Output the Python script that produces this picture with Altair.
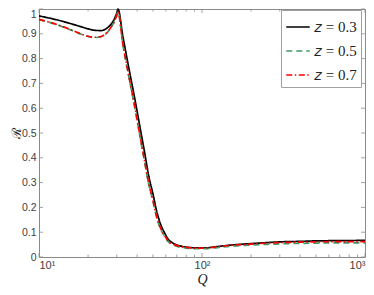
import altair as alt
import pandas as pd

# ---- data ----
Q = [10, 12, 14, 16, 18, 20, 22, 24, 26, 28, 29, 30, 30.5,
     32.7, 35.5, 38.7, 42, 44.5, 47, 50, 52.5, 55.5, 59, 62, 66, 72, 80, 91, 105,
     120, 150, 200, 250, 300, 400, 500, 700, 1000]

R_z03 = [0.972, 0.961, 0.950, 0.939, 0.929, 0.920, 0.914, 0.913, 0.922, 0.943, 0.960, 0.985, 1.000,
         0.890, 0.765, 0.638, 0.510, 0.420, 0.330, 0.255, 0.190, 0.135, 0.097, 0.072, 0.057, 0.046,
         0.040, 0.037, 0.037,
         0.041, 0.048, 0.054, 0.058, 0.061, 0.063, 0.065, 0.066, 0.067]

R_z05 = [0.957, 0.943, 0.928, 0.913, 0.899, 0.889, 0.885, 0.888, 0.903, 0.931, 0.949, 0.974, 0.990,
         0.856, 0.729, 0.602, 0.472, 0.382, 0.296, 0.225, 0.164, 0.115, 0.083, 0.062, 0.050, 0.041,
         0.036, 0.034, 0.034,
         0.037, 0.043, 0.048, 0.051, 0.053, 0.055, 0.056, 0.057, 0.057]

R_z07 = [0.958, 0.944, 0.929, 0.914, 0.900, 0.890, 0.886, 0.889, 0.904, 0.932, 0.950, 0.975, 0.988,
         0.859, 0.733, 0.606, 0.476, 0.386, 0.300, 0.229, 0.168, 0.119, 0.086, 0.065, 0.053, 0.044,
         0.039, 0.036, 0.036,
         0.040, 0.047, 0.052, 0.056, 0.058, 0.060, 0.061, 0.062, 0.062]

series_labels = ["𝑧 = 0.3", "𝑧 = 0.5", "𝑧 = 0.7"]
series_colors = ["#000000", "#3a9a68", "#ff0000"]
series_dashes = [[1, 0], [6, 4], [6, 2.5, 1.5, 2.5]]

x_major = [10, 100, 1000]
x_minor = [20, 30, 40, 50, 60, 70, 80, 90, 200, 300, 400, 500, 600, 700, 800, 900]
y_ticks = [0, 0.1, 0.2, 0.3, 0.4, 0.5, 0.6, 0.7, 0.8, 0.9, 1.0]

rows = []
for lab, vals in zip(series_labels, [R_z03, R_z05, R_z07]):
    for q, r in zip(Q, vals):
        rows.append({"Q": q, "R": r, "s": lab})
df = pd.DataFrame(rows)

W, H = 326, 248
GRAY = "#8a8a8a"
LBL = "#404040"

xscale = alt.Scale(type="log", domain=[10, 1000], nice=False)
yscale = alt.Scale(domain=[0, 1], nice=False, zero=False)

label_expr = "datum.value == 10 ? '10¹' : datum.value == 100 ? '10²' : '10³'"

xaxis = alt.Axis(values=x_major, labelExpr=label_expr, title="Q",
                 titleFont="Liberation Serif", titleFontStyle="italic",
                 titleFontSize=14, titleFontWeight="normal", titleColor="#222",
                 titlePadding=2, labelFont="Liberation Sans", labelFontSize=11,
                 labelColor=LBL, labelPadding=2)
yaxis = alt.Axis(values=y_ticks, format="~g", title="ℛ",
                 titleFont="DejaVu Serif", titleFontSize=13, titleFontWeight="normal",
                 titleColor="#222", titleX=-23, titleY=H / 2, titleAngle=270,
                 titleAlign="center", titleBaseline="middle",
                 labelFont="Liberation Sans",
                 labelFontSize=10.5, labelColor=LBL, labelPadding=3,
                 labelBaseline={"condition": {"test": "datum.value == 1", "value": "top"},
                                "value": "middle"})

lines = alt.Chart(df).mark_line(strokeWidth=1.7, interpolate="monotone").encode(
    x=alt.X("Q:Q", scale=xscale, axis=xaxis),
    y=alt.Y("R:Q", scale=yscale, axis=yaxis),
    color=alt.Color("s:N", scale=alt.Scale(domain=series_labels, range=series_colors),
                    legend=alt.Legend(title=None)),
    strokeDash=alt.StrokeDash("s:N", scale=alt.Scale(domain=series_labels, range=series_dashes),
                              legend=alt.Legend(title=None)),
    order=alt.Order("s:N"),
)

dfx_major = pd.DataFrame({"Q": x_major})
dfx_minor = pd.DataFrame({"Q": x_minor})
dfy = pd.DataFrame({"R": y_ticks})

tick_style = dict(color=GRAY, strokeWidth=0.8)
xt = alt.X("Q:Q", scale=xscale, axis=xaxis)
yt = alt.Y("R:Q", scale=yscale, axis=yaxis)

ticks = [
    alt.Chart(dfx_major).mark_rule(**tick_style).encode(x=xt, y=alt.value(H), y2=alt.value(H - 4)),
    alt.Chart(dfx_major).mark_rule(**tick_style).encode(x=xt, y=alt.value(0), y2=alt.value(4)),
    alt.Chart(dfx_minor).mark_rule(**tick_style).encode(x=xt, y=alt.value(H), y2=alt.value(H - 2.5)),
    alt.Chart(dfx_minor).mark_rule(**tick_style).encode(x=xt, y=alt.value(0), y2=alt.value(2.5)),
    alt.Chart(dfy).mark_rule(**tick_style).encode(y=yt, x=alt.value(0), x2=alt.value(4)),
    alt.Chart(dfy).mark_rule(**tick_style).encode(y=yt, x=alt.value(W), x2=alt.value(W - 4)),
]

chart = alt.layer(lines, *ticks).properties(
    width=W, height=H,
    autosize=alt.AutoSizeParams(type="none"),
    padding={"left": 31, "top": 1, "right": 1, "bottom": 30},
).configure_view(
    stroke=GRAY, strokeWidth=1
).configure_axis(
    domain=False, ticks=False, grid=False
).configure_legend(
    orient="none", legendX=242, legendY=1,
    fillColor="white", strokeColor="#a0a0a0", padding=4, cornerRadius=0,
    symbolType="stroke", symbolSize=550, symbolStrokeWidth=1.7,
    labelFont="Liberation Serif", labelFontSize=15, labelColor="#222",
    rowPadding=3, symbolOffset=0, labelOffset=3
)

chart.save("out.html", embed_options={"renderer": "svg", "actions": False})
